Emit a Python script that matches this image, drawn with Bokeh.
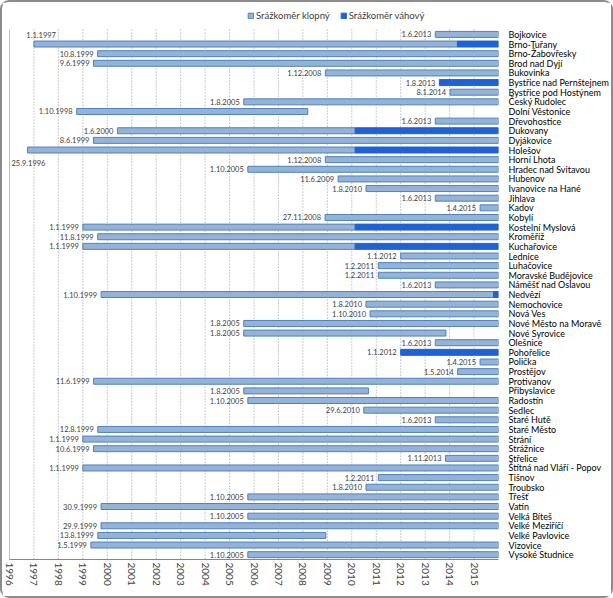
from datetime import date

from bokeh.plotting import figure
from bokeh.models import (Range1d, FixedTicker, Legend, LegendItem,
                          ColumnDataSource, InlineStyleSheet)
from bokeh.core.properties import value
from bokeh.embed import file_html
from bokeh.resources import INLINE

# ---------------- data ----------------
stations = [
    "Bojkovice", "Brno-Tuřany", "Brno-Žabovřesky", "Brod nad Dyjí", "Bukovinka",
    "Bystřice nad Pernštejnem", "Bystřice pod Hostýnem", "Český Rudolec",
    "Dolní Věstonice", "Dřevohostice", "Dukovany", "Dyjákovice", "Holešov",
    "Horní Lhota", "Hradec nad Svitavou", "Hubenov", "Ivanovice na Hané",
    "Jihlava", "Kadov", "Kobylí", "Kostelní Myslová", "Kroměříž", "Kuchařovice",
    "Lednice", "Luhačovice", "Moravské Budějovice", "Náměšť nad Oslavou",
    "Nedvězí", "Nemochovice", "Nová Ves", "Nové Město na Moravě",
    "Nové Syrovice", "Olešnice", "Pohořelice", "Polička", "Prostějov",
    "Protivanov", "Přibyslavice", "Radostín", "Sedlec", "Staré Hutě",
    "Staré Město", "Strání", "Strážnice", "Střelice", "Štítná nad Vláří - Popov",
    "Tišnov", "Troubsko", "Třešť", "Vatín", "Velká Bíteš", "Velké Meziříčí",
    "Velké Pavlovice", "Vizovice", "Vysoké Studnice",
]

start_dates = [
    "1.6.2013", "1.1.1997", "10.8.1999", "9.6.1999", "1.12.2008",
    "1.8.2013", "8.1.2014", "1.8.2005",
    "1.10.1998", "1.6.2013", "1.6.2000", "8.6.1999", "25.9.1996",
    "1.12.2008", "1.10.2005", "11.6.2009", "1.8.2010",
    "1.6.2013", "1.4.2015", "27.11.2008", "1.1.1999", "11.8.1999", "1.1.1999",
    "1.1.2012", "1.2.2011", "1.2.2011", "1.6.2013",
    "1.10.1999", "1.8.2010", "1.10.2010", "1.8.2005",
    "1.8.2005", "1.6.2013", "1.1.2012", "1.4.2015", "1.5.2014",
    "11.6.1999", "1.8.2005", "1.10.2005", "29.6.2010", "1.6.2013",
    "12.8.1999", "1.1.1999", "10.6.1999", "1.11.2013", "1.1.1999",
    "1.2.2011", "1.8.2010", "1.10.2005", "30.9.1999", "1.10.2005", "29.9.1999",
    "13.8.1999", "1.5.1999", "1.10.2005",
]

# end of the tipping-bucket (klopný) period, decimal year; None = no klopný gauge
klopny_end = [
    2016.0, 2014.32, 2016.0, 2016.0, 2016.0,
    None, 2016.0, 2016.0,
    2008.2, 2016.0, 2010.14, 2016.0, 2010.14,
    2016.0, 2016.0, 2016.0, 2016.0,
    2016.0, 2016.0, 2016.0, 2010.14, 2016.0, 2010.14,
    2016.0, 2016.0, 2016.0, 2016.0,
    2015.8, 2016.0, 2016.0, 2016.0,
    2013.85, 2016.0, None, 2016.0, 2016.0,
    2016.0, 2010.68, 2016.0, 2016.0, 2016.0,
    2016.0, 2016.0, 2016.0, 2016.0, 2016.0,
    2016.0, 2016.0, 2016.0, 2016.0, 2016.0, 2016.0,
    2008.94, 2016.0, 2016.0,
]

# start of the weighing (váhový) gauge, decimal year; None = no váhový gauge
vahovy_start = [None] * len(stations)
vahovy_start[stations.index("Brno-Tuřany")] = 2014.32
vahovy_start[stations.index("Dukovany")] = 2010.14
vahovy_start[stations.index("Holešov")] = 2010.14
vahovy_start[stations.index("Kostelní Myslová")] = 2010.14
vahovy_start[stations.index("Kuchařovice")] = 2010.14
vahovy_start[stations.index("Nedvězí")] = 2015.8
vahovy_start[stations.index("Bystřice nad Pernštejnem")] = "start"
vahovy_start[stations.index("Pohořelice")] = "start"

record_end = 2016.0
years = list(range(1996, 2016))
legend_labels = ["Srážkoměr klopný", "Srážkoměr váhový"]

# ---------------- helpers ----------------
def dec_year(s):
    d, m, y = (int(v) for v in s.split("."))
    return y + (date(y, m, d) - date(y, 1, 1)).days / 365.25

starts = [dec_year(s) for s in start_dates]
n = len(stations)
rows = list(range(n))

k = dict(y=[], left=[], right=[])
v = dict(y=[], left=[], right=[])
for i in rows:
    if klopny_end[i] is not None:
        k["y"].append(i); k["left"].append(starts[i]); k["right"].append(klopny_end[i])
    if vahovy_start[i] is not None:
        vs = starts[i] if vahovy_start[i] == "start" else vahovy_start[i]
        v["y"].append(i); v["left"].append(vs); v["right"].append(record_end)

# label placement (pixels)
dx = [-4] * n
dy = [0] * n
i = stations.index("Brno-Tuřany"); dx[i] = 22; dy[i] = -9.5
i = stations.index("Holešov"); dx[i] = 18; dy[i] = 12.5

lab = ColumnDataSource(dict(x=starts, y=rows, t=start_dates, dx=dx, dy=dy))

# ---------------- figure ----------------
W, H = 609, 594
LEFT, RIGHT, TOP, BOTTOM = 7, 113, 3, 37
HEAD = 2.5   # extra rows above the first station, room for the legend
p = figure(width=W, height=H,
           x_range=Range1d(1996, 2016), y_range=Range1d(n - 0.5, -0.5 - HEAD),
           y_axis_location="right", output_backend="svg",
           toolbar_location=None, min_border_left=LEFT, min_border_top=TOP,
           min_border_bottom=BOTTOM, min_border_right=RIGHT)
p.outline_line_color = None
p.background_fill_color = "white"
p.border_fill_color = "white"
p.xgrid.grid_line_color = None
p.ygrid.grid_line_color = None
p.stylesheets = [InlineStyleSheet(css=":host { margin: 2px; "
                                      "outline: 2px solid #8c8c8c; "
                                      "border-radius: 7px; }")]

# year grid lines (dotted) and left axis line, only across the station rows
p.segment(x0=years[1:], x1=years[1:], y0=-0.5, y1=n - 0.5,
          line_color="#9a9a9a", line_dash="1 2", line_width=1)
p.segment(x0=[years[0]], x1=[years[0]], y0=-0.5, y1=n - 0.5,
          line_color="#868686", line_width=1)

rk = p.hbar(y="y", left="left", right="right", height=0.62,
            fill_color="#95B3D7", line_color="#4F81BD", line_width=1,
            source=ColumnDataSource(k))
rv = p.hbar(y="y", left="left", right="right", height=0.62,
            fill_color="#1F62D6", line_color="#1F62D6", line_width=1,
            source=ColumnDataSource(v))

p.text(x="x", y="y", text="t", x_offset="dx", y_offset="dy", source=lab,
       text_align="right", text_baseline="middle",
       text_font=value("Lato"), text_font_size="7.5px", text_color="#404040")

# x axis
xa = p.xaxis[0]
xa.ticker = FixedTicker(ticks=years)
xa.major_label_orientation = "vertical"
xa.major_label_text_font = "Lato"
xa.major_label_text_font_size = "10px"
xa.major_label_text_color = "#404040"
xa.axis_line_color = "#868686"
xa.major_tick_line_color = None
xa.minor_tick_line_color = None
xa.major_tick_out = 0
xa.major_tick_in = 0
xa.major_label_standoff = 3

# station axis
ya = p.yaxis[0]
ya.ticker = FixedTicker(ticks=rows)
ya.major_label_overrides = {i: s for i, s in enumerate(stations)}
ya.major_label_text_font = "Lato"
ya.major_label_text_font_size = "9px"
ya.major_label_text_color = "black"
ya.axis_line_color = None
ya.major_tick_line_color = None
ya.minor_tick_line_color = None
ya.major_tick_out = 0
ya.major_tick_in = 0
ya.major_label_standoff = 10

frame_h = H - TOP - BOTTOM
leg = Legend(items=[LegendItem(label=legend_labels[0], renderers=[rk]),
                    LegendItem(label=legend_labels[1], renderers=[rv])],
             orientation="horizontal", location=(238, frame_h - 15.5),
             glyph_width=7, glyph_height=7, label_height=10,
             label_text_font="Lato", label_text_font_size="9.5px",
             label_text_color="#404040", label_standoff=2, spacing=10,
             padding=2, margin=0, border_line_color=None,
             background_fill_alpha=0)
p.add_layout(leg, "center")

open("out.html", "w").write(file_html(p, INLINE))
